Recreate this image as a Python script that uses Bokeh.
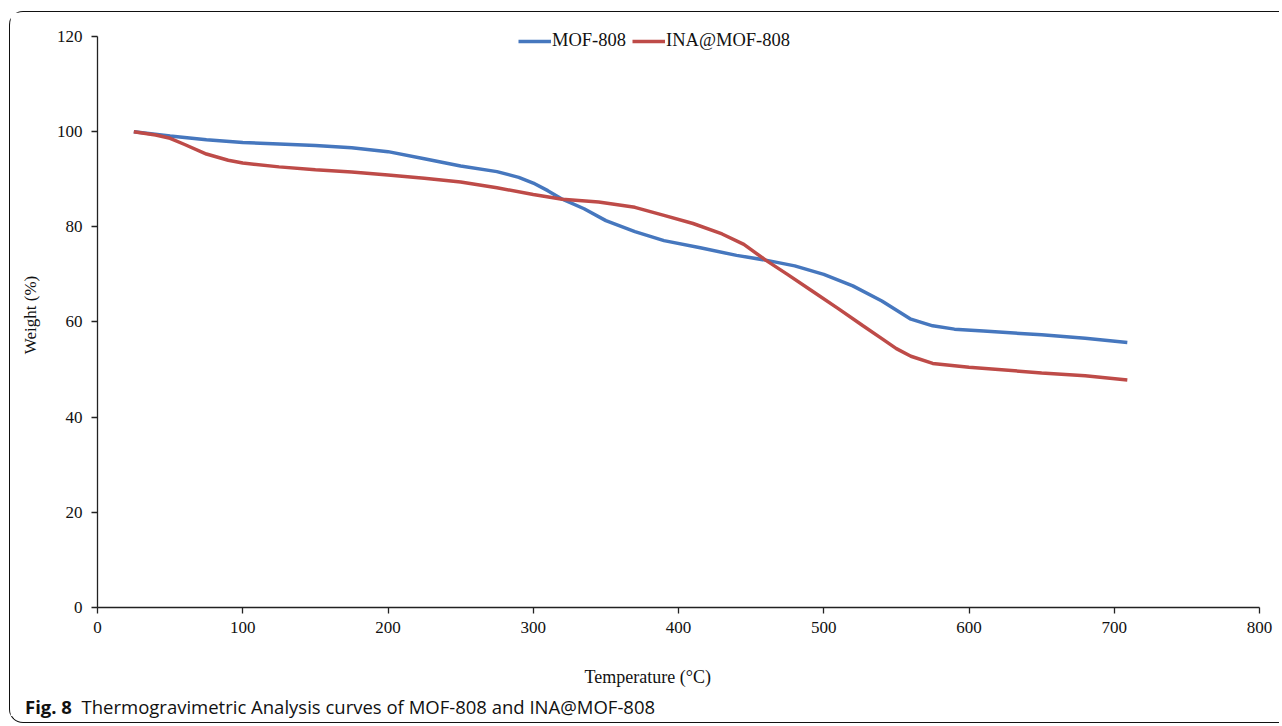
from bokeh.plotting import figure
from bokeh.models import Legend, LegendItem, Range1d, FixedTicker, Title, Div
from bokeh.layouts import column
from bokeh.embed import file_html
from bokeh.resources import INLINE

# ---- data ----
mof_t = [25, 50, 75, 100, 125, 150, 175, 200, 225, 250, 275, 290, 300, 310, 320,
         335, 350, 370, 390, 415, 440, 460, 480, 500, 520, 540, 560, 575, 590,
         610, 650, 680, 709]
mof_w = [100.0, 99.1, 98.3, 97.7, 97.4, 97.1, 96.6, 95.8, 94.3, 92.8, 91.6, 90.4,
         89.2, 87.6, 85.8, 83.8, 81.3, 79.0, 77.1, 75.6, 74.0, 73.0, 71.8, 70.0,
         67.6, 64.4, 60.6, 59.2, 58.5, 58.1, 57.3, 56.6, 55.7]

ina_t = [25, 40, 50, 60, 75, 90, 100, 125, 150, 175, 200, 225, 250, 275, 300, 320,
         345, 370, 390, 410, 430, 445, 460, 475, 492, 510, 527, 540, 550, 560,
         575, 600, 650, 680, 709]
ina_w = [100.0, 99.3, 98.6, 97.3, 95.3, 94.0, 93.4, 92.6, 92.0, 91.5, 90.9, 90.2,
         89.4, 88.2, 86.8, 85.8, 85.2, 84.1, 82.4, 80.7, 78.5, 76.3, 73.0, 70.0,
         66.5, 62.8, 59.2, 56.5, 54.4, 52.8, 51.3, 50.5, 49.3, 48.7, 47.8]

x_ticks = [0, 100, 200, 300, 400, 500, 600, 700, 800]
y_ticks = [0, 20, 40, 60, 80, 100, 120]
y_axis_max = 120

series_names = ["MOF-808", "INA@MOF-808"]
series_colors = ["#4677BE", "#BE4B48"]

x_title = "Temperature (°C)"
y_title = "Weight (%)"
caption_bold = "Fig. 8"
caption_text = "Thermogravimetric Analysis curves of MOF-808 and INA@MOF-808"

SERIF = "Liberation Serif"

# frame a bit taller than the 0-120 axis so the legend has room above the 120 tick
p = figure(
    frame_width=1162, frame_height=585,
    min_border_left=87, min_border_right=20, min_border_top=10, min_border_bottom=86,
    x_range=Range1d(0, 800), y_range=Range1d(0, 122.94),
    output_backend="svg", toolbar_location=None,
)
p.outline_line_color = None
p.grid.visible = False
p.background_fill_color = "white"
p.border_fill_color = "white"

for ax, ticks in ((p.xaxis, x_ticks), (p.yaxis, y_ticks)):
    ax.ticker = FixedTicker(ticks=ticks)
    ax.minor_tick_line_color = None
    ax.major_tick_in = 0
    ax.major_tick_out = 6
    ax.axis_line_color = "#222"
    ax.major_tick_line_color = "#222"
    ax.axis_line_width = 1.3
    ax.major_tick_line_width = 1.3
    ax.major_label_text_font = SERIF
    ax.major_label_text_font_size = "17px"
    ax.major_label_text_color = "#111"
p.yaxis.bounds = (0, y_axis_max)
p.xaxis.major_label_standoff = 8
p.yaxis.major_label_standoff = 9

p.yaxis.axis_label = y_title
p.yaxis.axis_label_text_font = SERIF
p.yaxis.axis_label_text_font_size = "17px"
p.yaxis.axis_label_text_font_style = "normal"
p.yaxis.axis_label_text_color = "#111"
p.yaxis.axis_label_standoff = 14

p.add_layout(Title(text=x_title, align="left", offset=487, standoff=59,
                   text_font=SERIF, text_font_size="18px", text_font_style="normal",
                   text_color="#111"), "below")

r1 = p.line(mof_t, mof_w, line_color=series_colors[0], line_width=3.5)
r2 = p.line(ina_t, ina_w, line_color=series_colors[1], line_width=3.5)

legend = Legend(
    items=[LegendItem(label=series_names[0], renderers=[r1]),
           LegendItem(label=series_names[1], renderers=[r2])],
    orientation="horizontal", location=(421, 556),
    padding=0, margin=0, spacing=6, glyph_width=33, glyph_height=18,
    label_standoff=1, label_text_font=SERIF, label_text_font_size="18.5px",
    label_text_color="#111", border_line_color=None, background_fill_alpha=0,
)
p.add_layout(legend, "center")

caption = Div(
    text=f'<span style="font-weight:bold">{caption_bold}</span>&nbsp;&nbsp;{caption_text}',
    width=1269, height=28, margin=(-22, 0, 0, 0),
    styles={"font-family": "'Open Sans', sans-serif", "font-size": "18.5px",
            "color": "#111", "padding-left": "15px", "line-height": "26px"},
)

layout = column(p, caption, spacing=0)
layout.styles = {
    "margin-left": "9px", "margin-top": "11px",
    "border-left": "1px solid #111", "border-top": "1px solid #111",
    "border-bottom": "1px solid #111",
    "border-top-left-radius": "14px", "border-bottom-left-radius": "14px",
}

open("out.html", "w").write(file_html(layout, INLINE))
